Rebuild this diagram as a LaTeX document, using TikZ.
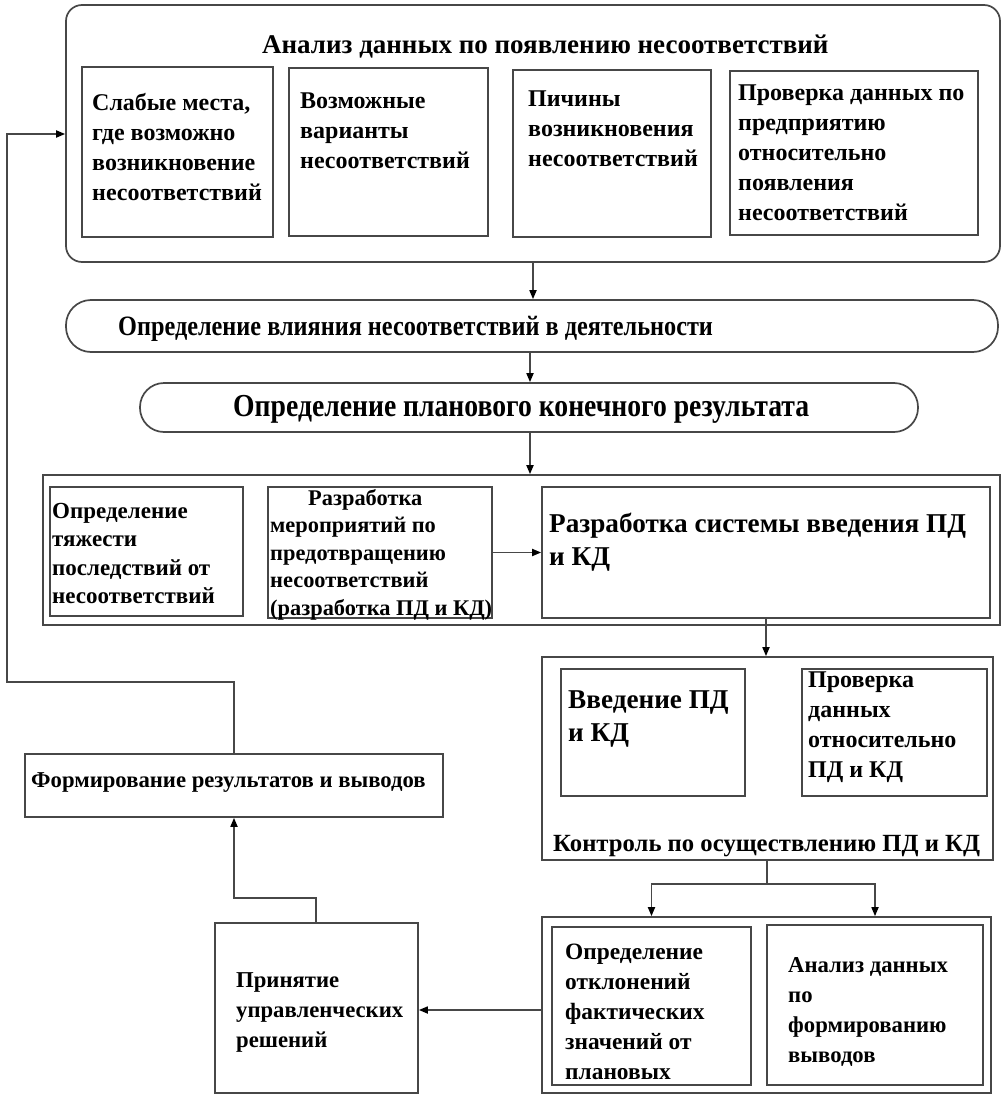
\documentclass[tikz,border=0pt]{standalone}
\usepackage{fontspec}
\setmainfont{Liberation Serif}
\usetikzlibrary{fit,arrows.meta}
\begin{document}
\begin{tikzpicture}[x=1pt,y=-1pt,
  box/.style={draw=black!72, line width=1.7pt, inner sep=0pt, fill=none},
  arr/.style={draw=black!72, line width=1.7pt, -{Triangle[length=9pt,width=7pt,color=black]}},
  ln/.style={draw=black!72, line width=1.7pt},
  txt/.style={inner sep=0pt, anchor=north west, align=left, text=black},
  fa/.style={font=\fontsize{24}{30}\selectfont\bfseries},
  fs/.style={font=\fontsize{22.7}{30}\selectfont\bfseries},
  fb/.style={font=\fontsize{22.4}{27.5}\selectfont\bfseries},
  fc/.style={font=\fontsize{27.2}{33}\selectfont\bfseries}
]
\useasboundingbox[fill=white] (0,0) rectangle (1006,1108);

% top block
\node[box, rounded corners=16pt, fit={(66,5) (1000,262)}] (top) {};
\node[txt, font=\fontsize{27}{30}\selectfont\bfseries] (ttl) at (262,35) {Анализ данных по появлению несоответствий};
\node[box, fit={(82,67) (273,237)}] (b1) {};
\node[box, fit={(289,68) (488,236)}] (b2) {};
\node[box, fit={(513,70) (711,237)}] (b3) {};
\node[box, fit={(730,71) (978,235)}] (b4) {};
\node[txt, fa] (t1) at (92,93) {Слабые места,\\где возможно\\возникновение\\несоответствий};
\node[txt, fa] (t2) at (300,93) {Возможные\\варианты\\несоответствий};
\node[txt, fa] (t3) at (528,91) {Пичины\\возникновения\\несоответствий};
\node[txt, fa] (t4) at (738,85) {Проверка данных по\\предприятию\\относительно\\появления\\несоответствий};

% pills
\node[box, rounded corners=25pt, fit={(66,300) (998,352)}] (p1) {};
\node[txt, anchor=west, font=\fontsize{28}{32}\selectfont\bfseries] (pt1) at (118,329) {\scalebox{0.867}[1]{Определение влияния несоответствий в деятельности}};
\node[box, rounded corners=24pt, fit={(140,383) (918,432)}] (p2) {};
\node[txt, anchor=west, font=\fontsize{32}{36}\selectfont\bfseries] (pt2) at (233,409) {\scalebox{0.865}[1]{Определение планового конечного результата}};

% row block
\node[box, fit={(43,475) (1000,625)}] (row) {};
\node[box, fit={(50,487) (243,616)}] (bA) {};
\node[box, fit={(268,487) (492,618)}] (bB) {};
\node[box, fit={(542,487) (990,618)}] (bC) {};
\node[txt, fb, font=\fontsize{23}{28.5}\selectfont\bfseries] (tA) at (52,503) {Определение\\тяжести\\последствий от\\несоответствий};
\node[txt, fb] (tB) at (270,489) {\hspace*{38pt}Разработка\\мероприятий по\\предотвращению\\несоответствий\\(разработка ПД и КД)};
\node[txt, fc] (tC) at (549,513) {Разработка системы введения ПД\\и КД};

% control block
\node[box, fit={(542,657) (993,860)}] (ctrl) {};
\node[box, fit={(561,669) (745,796)}] (bV) {};
\node[box, fit={(802,669) (987,796)}] (bP) {};
\node[txt, fc] (tV) at (568,690) {Введение ПД\\и КД};
\node[txt, fa] (tP) at (808,672) {Проверка\\данных\\относительно\\ПД и КД};
\node[txt, font=\fontsize{24.7}{30}\selectfont\bfseries] (tK) at (553,835) {Контроль по осуществлению ПД и КД};

% bottom right block
\node[box, fit={(542,917) (991,1093)}] (bot) {};
\node[box, fit={(552,927) (751,1085)}] (d1) {};
\node[box, fit={(767,925) (983,1085)}] (d2) {};
\node[txt, font=\fontsize{23.4}{30}\selectfont\bfseries] (tO) at (565,944) {Определение\\отклонений\\фактических\\значений от\\плановых};
\node[txt, fs] (tAn) at (788,957) {Анализ данных\\по\\формированию\\выводов};

% left bottom
\node[box, fit={(215,923) (418,1093)}] (prin) {};
\node[txt, fs] (tPr) at (236,972) {Принятие\\управленческих\\решений};
\node[box, fit={(25,754) (443,817)}] (form) {};
\node[txt, fs] (tF) at (31,772) {Формирование результатов и выводов};

% connectors
\draw[arr] (top.south) -- (top.south |- p1.north);
\draw[arr] (p1.south -| 530,0) -- (p2.north -| 530,0);
\draw[arr] (p2.south -| 530,0) -- (row.north -| 530,0);
\draw[arr] (bB.east) -- (bB.east -| bC.west);
\draw[arr] (bC.south) -- (bC.south |- ctrl.north);
\coordinate (split) at (767,884);
\draw[ln] (ctrl.south -| split) -- (split);
\draw[arr] (split) -| (d1.north |- bot.north);
\draw[arr] (split) -| (d2.north |- bot.north);
\draw[arr] (bot.west |- 0,1010) -- (prin.east |- 0,1010);
\coordinate (up1) at (316,898);
\draw[arr] (prin.north -| up1) -- (up1) -| (form.south);
\coordinate (c1) at (7,682);
\coordinate (fb) at (7,134);
\draw[arr] (form.north) |- (c1) -- (fb) -- (fb -| top.west);
\end{tikzpicture}
\end{document}
